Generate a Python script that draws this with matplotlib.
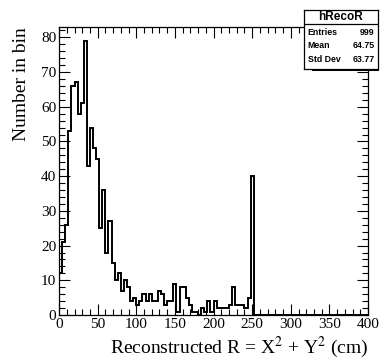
import matplotlib
matplotlib.use("Agg")
import matplotlib.pyplot as plt
import numpy as np
from matplotlib.ticker import MultipleLocator

plt.rcParams["mathtext.fontset"] = "stix"

# histogram hRecoR, 100 bins from 0 to 400 cm
bin_lo = 0
bin_hi = 400
n_bins = 100
counts = [12, 21, 26, 53, 66, 67, 58, 61, 79, 43,
          54, 48, 45, 25, 36, 18, 27, 15, 10, 12,
          7, 10, 8, 4, 5, 3, 4, 6, 4, 6,
          4, 4, 7, 6, 3, 4, 4, 9, 1, 8,
          8, 5, 3, 1, 1, 0, 2, 1, 4, 1,
          4, 2, 2, 2, 2, 3, 8, 3, 3, 3,
          2, 5, 40] + [0] * 37
stat_names = ["Entries", "Mean", "Std Dev"]
stat_values = ["999", "64.75", "63.77"]

edges = np.linspace(bin_lo, bin_hi, n_bins + 1)

fig = plt.figure(figsize=(3.81, 3.59), dpi=100)
ax = fig.add_axes([0.155, 0.1226, 0.811, 0.8024])

ax.stairs(counts, edges, color="black", linewidth=1.4)

ax.set_xlim(0, 400)
ax.set_ylim(0, 83)
ax.xaxis.set_major_locator(MultipleLocator(50))
ax.xaxis.set_minor_locator(MultipleLocator(10))
ax.yaxis.set_major_locator(MultipleLocator(10))
ax.yaxis.set_minor_locator(MultipleLocator(2))
ax.tick_params(which="both", direction="in", top=True, right=True,
               width=0.8, labelsize=11, pad=2)
ax.tick_params(which="major", length=8)
ax.tick_params(which="minor", length=4)
for lab in ax.get_xticklabels() + ax.get_yticklabels():
    lab.set_family("Liberation Serif")
for sp in ax.spines.values():
    sp.set_linewidth(0.9)

ax.set_xlabel("Reconstructed R = X$^{2}$ + Y$^{2}$ (cm)", family="Liberation Serif",
              fontsize=14)
ax.xaxis.set_label_coords(1.0, -0.112)
ax.xaxis.label.set_horizontalalignment("right")
ax.xaxis.label.set_verticalalignment("center")
ax.set_ylabel("Number in bin", family="Liberation Serif", fontsize=14)
ax.yaxis.set_label_coords(-0.12, 1.0)
ax.yaxis.label.set_horizontalalignment("right")
ax.yaxis.label.set_verticalalignment("center")

# stat box
bx0, bx1, by0, by1 = 0.798, 0.992, 0.808, 0.972
box = fig.add_axes([bx0, by0, bx1 - bx0, by1 - by0])
box.set_xlim(0, 1)
box.set_ylim(0, 1)
box.set_xticks([])
box.set_yticks([])
box.patch.set_facecolor("white")
for sp in box.spines.values():
    sp.set_linewidth(0.9)
# shadow
fig.patches.append(plt.Rectangle((bx1, by0 - 0.005), 0.004, by1 - by0 - 0.02,
                                 transform=fig.transFigure, color="black", lw=0))
fig.patches.append(plt.Rectangle((bx0 + 0.02, by0 - 0.005), bx1 - bx0 - 0.016, 0.005,
                                 transform=fig.transFigure, color="black", lw=0))
box.axhline(0.76, color="black", linewidth=0.9)
box.text(0.5, 0.88, "hRecoR", ha="center", va="center", fontsize=8.5,
         fontweight="bold", family="Liberation Sans")
for i, (nm, val) in enumerate(zip(stat_names, stat_values)):
    yy = 0.62 - i * 0.23
    box.text(0.05, yy, nm, ha="left", va="center", fontsize=6.3,
             fontweight="bold", family="Liberation Sans")
    box.text(0.95, yy, val, ha="right", va="center", fontsize=6.3,
             fontweight="bold", family="Liberation Sans")

fig.savefig("out.png", dpi=100)
